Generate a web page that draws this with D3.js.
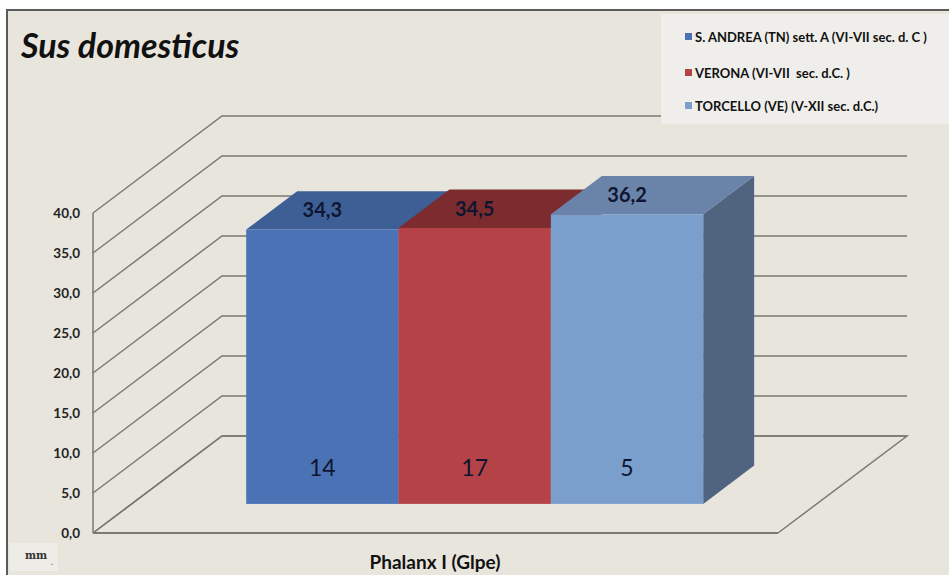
<!DOCTYPE html>
<html><head><meta charset="utf-8">
<script src="https://cdn.jsdelivr.net/npm/d3@7"></script>
<style>html,body{margin:0;padding:0;background:#fff;}svg{display:block;}text{white-space:pre;}</style>
</head><body>
<svg id="c" width="949" height="575"></svg>
<script>
const series = ["S. ANDREA (TN) sett. A (VI-VII sec. d. C )", "VERONA (VI-VII  sec. d.C. )", "TORCELLO (VE) (V-XII sec. d.C.)"];
const values = [34.3, 34.5, 36.2];
const counts = ["14", "17", "5"];
const valueLabels = ["34,3", "34,5", "36,2"];
const category = "Phalanx I (Glpe)";
const ticks = [0, 5, 10, 15, 20, 25, 30, 35, 40];
const tickLabels = ["0,0", "5,0", "10,0", "15,0", "20,0", "25,0", "30,0", "35,0", "40,0"];
const frontColors = ["#4A72B5", "#B44247", "#7B9FCD"];
const topColors = ["#3D5F96", "#7C2C2E", "#6A83A8"];
const sideColors = ["#33507f", "#6a2527", "#506480"];

const svg = d3.select("#c");
const font = "Lato, 'Open Sans', sans-serif";

// frame
svg.append("rect").attr("x", 7).attr("y", 10).attr("width", 960).attr("height", 600)
  .attr("fill", "#E8E5DD").attr("stroke", "#5a5a5a").attr("stroke-width", 2);

// 3D projection
const y = d3.scaleLinear().domain([0, 40]).range([533, 213]);
const x = d3.scaleBand().domain(series).range([207.5, 664.5]);
const DX = 129, DY = -97;
const P = (px, val, d) => [px + d * DX, y(val) + d * DY];
const grid = "#7a7a72";

// floor
const floorX0 = 93, floorX1 = 778;
const g = svg.append("g");
g.append("path").attr("d", d3.line()([P(floorX0,0,0), P(floorX0,0,1), P(floorX1,0,1), P(floorX1,0,0)]))
  .attr("fill", "none").attr("stroke", grid).attr("stroke-width", 1.5);
// back wall gridlines + side wall diagonals
ticks.forEach(t => {
  g.append("path").attr("d", d3.line()([P(floorX0,t,0), P(floorX0,t,1), P(floorX1,t,1)]))
    .attr("fill", "none").attr("stroke", grid).attr("stroke-width", 1.5);
});
g.append("line").attr("x1", floorX0).attr("x2", floorX0).attr("y1", y(0)).attr("y2", y(40))
  .attr("stroke", grid).attr("stroke-width", 1.5);
g.append("line").attr("x1", floorX0).attr("x2", floorX1).attr("y1", y(0)).attr("y2", y(0))
  .attr("stroke", grid).attr("stroke-width", 2);

// tick labels
svg.append("g").selectAll("text").data(ticks).join("text")
  .attr("x", 80).attr("y", d => y(d) + 5).attr("text-anchor", "end")
  .attr("font-family", font).attr("font-weight", "bold").attr("font-size", 13.5).attr("fill", "#222")
  .text((d, i) => tickLabels[i]);

// bars
const d0 = 0.3, d1 = 0.695;
const bars = svg.append("g");
series.forEach((s, i) => {
  const xl = x(s), xr = x(s) + x.bandwidth(), v = values[i];
  const line = d3.line();
  bars.append("path").attr("d", line([P(xr,0,d0), P(xr,0,d1), P(xr,v,d1), P(xr,v,d0)]) + "Z").attr("fill", sideColors[i]);
  bars.append("path").attr("d", line([P(xl,v,d0), P(xl,v,d1), P(xr,v,d1), P(xr,v,d0)]) + "Z").attr("fill", topColors[i]);
  const [fx0, fy0] = P(xl, v, d0), [fx1, fy1] = P(xr, 0, d0);
  bars.append("rect").attr("x", fx0).attr("y", fy0).attr("width", fx1 - fx0).attr("height", fy1 - fy0).attr("fill", frontColors[i]);
});
series.forEach((s, i) => {
  const cx = x(s) + x.bandwidth() / 2, v = values[i];
  const [lx] = P(cx, v, d0);
  const [, ly2] = P(cx, v, (d0 + d1) / 2);
  bars.append("text").attr("x", lx).attr("y", ly2 + 7).attr("text-anchor", "middle")
    .attr("font-family", font).attr("font-weight", "bold").attr("font-size", 20).attr("fill", "#0f1530").text(valueLabels[i]);
  const [bx] = P(cx, 0, d0);
  bars.append("text").attr("x", bx).attr("y", 476).attr("text-anchor", "middle")
    .attr("font-family", font).attr("font-size", 23).attr("fill", "#0f1530").text(counts[i]);
});

// title
svg.append("text").attr("x", 21).attr("y", 58).attr("font-family", font).attr("font-weight", "bold")
  .attr("font-style", "italic").attr("font-size", 34).attr("fill", "#111").text("Sus domesticus");

// legend
const leg = svg.append("g");
leg.append("rect").attr("x", 661).attr("y", 14).attr("width", 290).attr("height", 110).attr("fill", "#EFEEEA");
series.forEach((s, i) => {
  const ly = [37, 73, 106][i];
  leg.append("rect").attr("x", 685).attr("y", ly - 4).attr("width", 7).attr("height", 7).attr("fill", frontColors[i]);
  leg.append("text").attr("x", 695).attr("y", ly + 4.5).attr("font-family", font).attr("font-weight", "bold")
    .attr("font-size", 13).attr("fill", "#111").text(s);
});

// axis title & unit
svg.append("text").attr("x", 435).attr("y", 569).attr("text-anchor", "middle").attr("font-family", font)
  .attr("font-weight", "bold").attr("font-size", 19).attr("fill", "#111").text(category);
svg.append("rect").attr("x", 10).attr("y", 543).attr("width", 48).attr("height", 28).attr("fill", "#EEECE6");
svg.append("text").attr("x", 25).attr("y", 559).attr("font-family", "'DejaVu Serif', serif")
  .attr("font-weight", "bold").attr("font-size", 10.5).attr("fill", "#333").text("mm");
svg.append("text").attr("x", 51).attr("y", 565).attr("font-family", font)
  .attr("font-size", 9).attr("fill", "#666").text(".");
</script>
</body></html>
